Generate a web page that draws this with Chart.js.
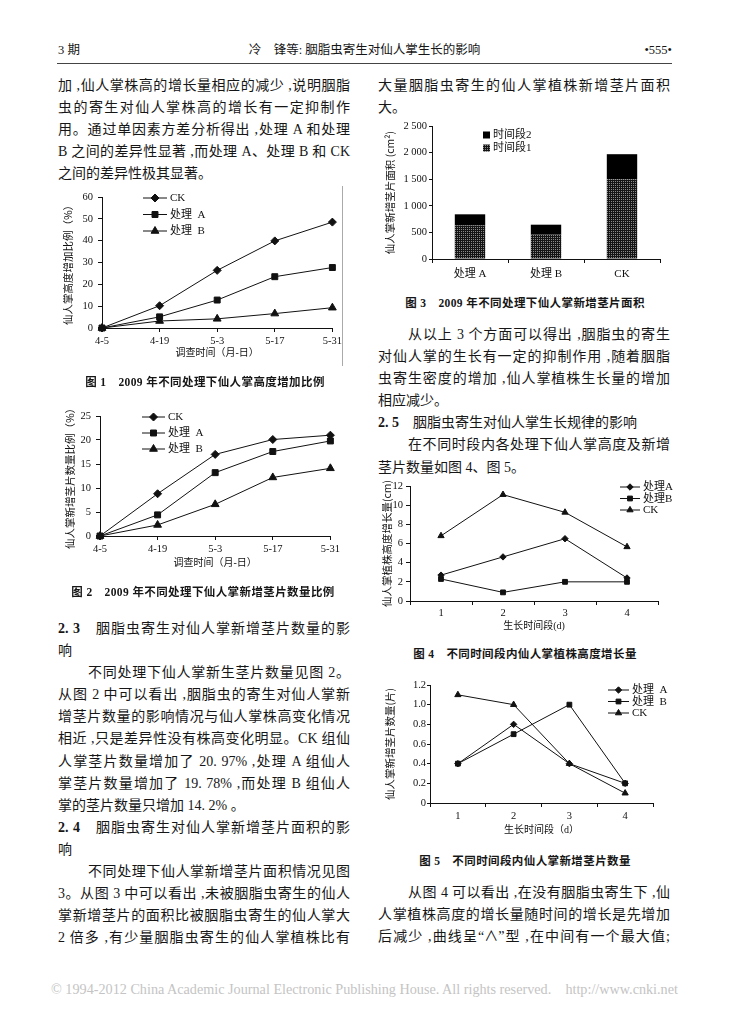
<!DOCTYPE html>
<html lang="zh-CN">
<head>
<meta charset="utf-8">
<script src="https://cdn.jsdelivr.net/npm/chart.js@4.4.1/dist/chart.umd.min.js"></script>
<style>
  body { margin: 0; background: #fff; }
  #page { position: relative; width: 729px; height: 1024px; overflow: hidden;
    font-family: "Liberation Serif", "Noto Sans CJK SC", serif; color: #161616; }
  .hd { position: absolute; top: 42px; font-size: 12.5px; line-height: 16px; }
  .rule { position: absolute; left: 57px; top: 63px; width: 615px; height: 1px; background: #444; }
  .col { position: absolute; width: 292px; font-size: 14px; line-height: 22.1px; }
  .col div { text-align: justify; text-align-last: justify; height: 22.1px; }
  .col div.l { text-align-last: left; }
  .col div.ind { padding-left: 30px; }
  .col b { font-family: "Liberation Serif", serif; }
  .cap { position: absolute; font-size: 11.5px; font-weight: bold; text-align: center; letter-spacing: 0.4px; }
  canvas { position: absolute; }
  .frame { position: absolute; left: 342px; top: 186px; width: 1px; height: 180px; background: #aaa; }
  .foot { position: absolute; left: 0; width: 729px; top: 981px; text-align: center; font-size: 14.2px; color: #c4c4c4; }
</style>
</head>
<body>
<div id="page">
  <div class="hd" style="left:58px">3 期</div>
  <div class="hd" style="left:0;width:729px;text-align:center">冷　锋等: 胭脂虫寄生对仙人掌生长的影响</div>
  <div class="hd" style="right:57px">•555•</div>
  <div class="rule"></div>

  <div class="col" style="left:58px;top:75px">
    <div>加 ,仙人掌株高的增长量相应的减少 ,说明胭脂</div>
    <div>虫的寄生对仙人掌株高的增长有一定抑制作</div>
    <div>用。通过单因素方差分析得出 ,处理 A 和处理</div>
    <div>B 之间的差异性显著 ,而处理 A、处理 B 和 CK</div>
    <div class="l">之间的差异性极其显著。</div>
  </div>

  <div class="col" style="left:58px;top:618px">
    <div><b>2. 3</b>　胭脂虫寄生对仙人掌新增茎片数量的影</div>
    <div class="l">响</div>
    <div class="ind">不同处理下仙人掌新生茎片数量见图 2。</div>
    <div>从图 2 中可以看出 ,胭脂虫的寄生对仙人掌新</div>
    <div>增茎片数量的影响情况与仙人掌株高变化情况</div>
    <div>相近 ,只是差异性没有株高变化明显。CK 组仙</div>
    <div>人掌茎片数量增加了 20. 97% ,处理 A 组仙人</div>
    <div>掌茎片数量增加了 19. 78% ,而处理 B 组仙人</div>
    <div class="l">掌的茎片数量只增加 14. 2% 。</div>
    <div><b>2. 4</b>　胭脂虫寄生对仙人掌新增茎片面积的影</div>
    <div class="l">响</div>
    <div class="ind">不同处理下仙人掌新增茎片面积情况见图</div>
    <div>3。从图 3 中可以看出 ,未被胭脂虫寄生的仙人</div>
    <div>掌新增茎片的面积比被胭脂虫寄生的仙人掌大</div>
    <div>2 倍多 ,有少量胭脂虫寄生的仙人掌植株比有</div>
  </div>

  <div class="col" style="left:378px;top:75px">
    <div>大量胭脂虫寄生的仙人掌植株新增茎片面积</div>
    <div class="l">大。</div>
  </div>

  <div class="col" style="left:378px;top:324px">
    <div class="ind">从以上 3 个方面可以得出 ,胭脂虫的寄生</div>
    <div>对仙人掌的生长有一定的抑制作用 ,随着胭脂</div>
    <div>虫寄生密度的增加 ,仙人掌植株生长量的增加</div>
    <div class="l">相应减少。</div>
    <div class="l"><b>2. 5</b>　胭脂虫寄生对仙人掌生长规律的影响</div>
    <div class="ind">在不同时段内各处理下仙人掌高度及新增</div>
    <div class="l">茎片数量如图 4、图 5。</div>
  </div>

  <div class="col" style="left:378px;top:882px">
    <div class="ind">从图 4 可以看出 ,在没有胭脂虫寄生下 ,仙</div>
    <div>人掌植株高度的增长量随时间的增长是先增加</div>
    <div>后减少 ,曲线呈“∧”型 ,在中间有一个最大值;</div>
  </div>

  <canvas id="fig1" width="285" height="190" style="left:60px;top:185px"></canvas>
  <div class="frame"></div>
  <div class="cap" style="left:60px;width:290px;top:373px">图 1　2009 年不同处理下仙人掌高度增加比例</div>

  <canvas id="fig2" width="285" height="190" style="left:58px;top:404px"></canvas>
  <div class="cap" style="left:58px;width:290px;top:583px">图 2　2009 年不同处理下仙人掌新增茎片数量比例</div>

  <canvas id="fig3" width="295" height="180" style="left:375px;top:114px"></canvas>
  <div class="cap" style="left:378px;width:294px;top:294px">图 3　2009 年不同处理下仙人掌新增茎片面积</div>

  <canvas id="fig4" width="300" height="170" style="left:375px;top:474px"></canvas>
  <div class="cap" style="left:378px;width:294px;top:645px">图 4　不同时间段内仙人掌植株高度增长量</div>

  <canvas id="fig5" width="300" height="175" style="left:375px;top:673px"></canvas>
  <div class="cap" style="left:378px;width:294px;top:852px">图 5　不同时间段内仙人掌新增茎片数量</div>

  <div class="foot">© 1994-2012 China Academic Journal Electronic Publishing House. All rights reserved.&nbsp;&nbsp;&nbsp;&nbsp;http://www.cnki.net</div>
</div>

<script>
// ---- data ----

// 图 1 / 图 2: survey dates
const surveyDates = ['4-5', '4-19', '5-3', '5-17', '5-31'];
const heightCK = [0, 10.2, 26.4, 39.9, 48.5];
const heightA = [0, 5.1, 12.8, 23.5, 27.7];
const heightB = [0, 3.2, 4.2, 6.6, 9.3];
const countCK = [0, 8.8, 17.0, 20.1, 21.0];
const countA = [0, 4.4, 13.2, 17.6, 19.8];
const countB = [0, 2.3, 6.6, 12.2, 14.1];

// 图 3: stacked area of new pads
const areaGroups = ['处理 A', '处理 B', 'CK'];
const areaPeriod1 = [630, 460, 1500];
const areaPeriod2 = [210, 185, 470];

// 图 4 / 图 5: growth periods
const periods = ['1', '2', '3', '4'];
const growA = [2.7, 4.6, 6.5, 2.4];
const growB = [2.3, 0.9, 2.0, 2.0];
const growCK = [6.8, 11.1, 9.25, 5.65];
const newA = [0.4, 0.8, 0.4, 0.2];
const newB = [0.4, 0.7, 1.0, 0.2];
const newCK = [1.1, 1.0, 0.4, 0.1];

// ---- helpers ----
const serif = "'Liberation Serif', 'Noto Sans CJK SC'";
const sans = "'Noto Sans CJK SC'";
const ink = '#111';

// legend drawn inside the plot: short line with the marker in the middle
const lineLegend = {
  id: 'lineLegend',
  afterDraw(chart, args, opts) {
    if (!opts || opts.x == null) return;
    const ctx = chart.ctx;
    ctx.save();
    ctx.font = opts.size + 'px ' + serif;
    ctx.textBaseline = 'middle';
    chart.data.datasets.forEach((ds, i) => {
      const y = opts.y + i * opts.gap;
      ctx.strokeStyle = ink;
      ctx.fillStyle = ink;
      ctx.lineWidth = 1;
      ctx.beginPath();
      ctx.moveTo(opts.x, y);
      ctx.lineTo(opts.x + opts.len, y);
      ctx.stroke();
      Chart.helpers.drawPoint(ctx, { pointStyle: ds.pointStyle, radius: ds.pointRadius, borderWidth: 1 }, opts.x + opts.len / 2, y);
      ctx.fillText(ds.label, opts.x + opts.len + 3, y + 0.5);
    });
    ctx.restore();
  }
};

// legend with filled boxes, listed top segment first
const boxLegend = {
  id: 'boxLegend',
  afterDraw(chart, args, opts) {
    if (!opts || opts.x == null) return;
    const ctx = chart.ctx;
    ctx.save();
    ctx.font = opts.size + 'px ' + serif;
    ctx.textBaseline = 'middle';
    const list = chart.data.datasets.slice().reverse();
    list.forEach((ds, i) => {
      const y = opts.y + i * opts.gap;
      ctx.fillStyle = ds.backgroundColor;
      ctx.fillRect(opts.x, y - 3.5, 7, 7);
      ctx.fillStyle = ink;
      ctx.fillText(ds.label, opts.x + 10, y + 0.5);
    });
    ctx.restore();
  }
};

Chart.register(lineLegend, boxLegend);

function series(label, data, style, r) {
  return {
    label: label, data: data,
    borderColor: ink, borderWidth: 1, backgroundColor: ink,
    pointStyle: style, pointRadius: r, pointHoverRadius: r,
    pointBackgroundColor: ink, pointBorderColor: ink, pointBorderWidth: 1,
    tension: 0, clip: false, fill: false
  };
}

function axes(c) {
  return {
    x: {
      offset: c.offset, stacked: !!c.stacked,
      grid: { display: true, drawOnChartArea: false, offset: c.offset, tickLength: 4, color: ink, lineWidth: 1 },
      border: { display: true, color: ink, width: 1 },
      ticks: { color: ink, font: { family: serif, size: c.xTickSize || 10.5 }, padding: c.xPad, maxRotation: 0, autoSkip: false },
      title: { display: !!c.xTitle, text: c.xTitle, color: ink, font: { family: serif, size: 10, lineHeight: 1.2 }, padding: { top: 0, bottom: 0 } },
      afterFit: s => { s.height = c.xH; }
    },
    y: {
      min: 0, max: c.yMax, stacked: !!c.stacked,
      grid: { display: true, drawOnChartArea: false, tickLength: c.yTick || 4, color: ink, lineWidth: 1 },
      border: { display: true, color: ink, width: 1 },
      ticks: { stepSize: c.step, color: ink, font: { family: serif, size: 10.5 }, padding: c.yPad, callback: c.fmt },
      title: { display: true, text: c.yTitle, color: ink, font: { family: sans, size: 10.5, lineHeight: 1.2 }, padding: { top: c.yTitlePad, bottom: 0 } },
      afterFit: s => { s.width = c.yW; }
    }
  };
}

function baseOptions(pad, scales, plugins) {
  return {
    responsive: false, animation: false, devicePixelRatio: 1,
    events: [],
    layout: { padding: pad },
    plugins: Object.assign({ legend: { display: false }, tooltip: { enabled: false } }, plugins),
    scales: scales
  };
}

// ---- 图 1 ----
new Chart(document.getElementById('fig1'), {
  type: 'line',
  data: {
    labels: surveyDates,
    datasets: [
      series('CK', heightCK, 'rectRot', 4),
      series('处理  A', heightA, 'rect', 4.2),
      series('处理  B', heightB, 'triangle', 4.5)
    ]
  },
  options: baseOptions({ left: 0, top: 12, right: 12, bottom: 16 },
    axes({ offset: false, xH: 31, xPad: 3, xTitle: '调查时间（月-日）', yMax: 60, step: 10, yPad: 5, yW: 42,
      yTitle: '仙人掌高度增加比例（%）', yTitlePad: 2 }),
    { lineLegend: { x: 83, y: 13, gap: 16.5, len: 24, size: 11 } })
});

// ---- 图 2 ----
new Chart(document.getElementById('fig2'), {
  type: 'line',
  data: {
    labels: surveyDates,
    datasets: [
      series('CK', countCK, 'rectRot', 4),
      series('处理  A', countA, 'rect', 4.2),
      series('处理  B', countB, 'triangle', 4.5)
    ]
  },
  options: baseOptions({ left: 0, top: 12, right: 12, bottom: 25 },
    axes({ offset: false, xH: 33, xPad: 3, xTitle: '调查时间（月-日）', yMax: 25, step: 5, yPad: 5, yW: 42,
      yTitle: '仙人掌新增茎片数量比例（%）', yTitlePad: 6 }),
    { lineLegend: { x: 84, y: 13, gap: 16, len: 23, size: 11 } })
});

// ---- 图 3 ----
function dotPattern() {
  const c = document.createElement('canvas');
  c.width = 2; c.height = 2;
  const g = c.getContext('2d');
  g.fillStyle = '#8a8a8a';
  g.fillRect(0, 0, 2, 2);
  g.fillStyle = '#151515';
  g.fillRect(0, 0, 1, 1);
  g.fillRect(1, 1, 1, 1);
  g.fillRect(1, 0, 1, 1);
  return g.createPattern(c, 'repeat');
}

new Chart(document.getElementById('fig3'), {
  type: 'bar',
  data: {
    labels: areaGroups,
    datasets: [
      { label: '时间段1', data: areaPeriod1, backgroundColor: dotPattern(), borderWidth: 0 },
      { label: '时间段2', data: areaPeriod2, backgroundColor: '#000', borderWidth: 0 }
    ]
  },
  options: Object.assign(baseOptions({ left: 0, top: 12, right: 10, bottom: 9 },
    axes({ offset: true, stacked: true, xH: 26, xPad: 5, xTitle: '', xTickSize: 11, yMax: 2500, step: 500, yPad: 2, yTick: 3, yW: 57,
      yTitle: '仙人掌新增茎片面积 (cm²)', yTitlePad: 9,
      fmt: v => v >= 1000 ? String(v).replace(/(\d)(\d{3})$/, '$1 $2') : String(v) }),
    { boxLegend: { x: 108, y: 21, gap: 13, size: 11 } }),
    { datasets: { bar: { barPercentage: 0.4, categoryPercentage: 1 } } })
});

// ---- 图 4 ----
new Chart(document.getElementById('fig4'), {
  type: 'line',
  data: {
    labels: periods,
    datasets: [
      series('处理A', growA, 'rectRot', 3.2),
      series('处理B', growB, 'rect', 3.4),
      series('CK', growCK, 'triangle', 3.6)
    ]
  },
  options: baseOptions({ left: 0, top: 12, right: 17, bottom: 12 },
    axes({ offset: true, xH: 31, xPad: 2, xTitle: '生长时间段(d)', yMax: 12, step: 2, yPad: 3, yW: 35,
      yTitle: '仙人掌植株高度增长量(cm)', yTitlePad: 6 }),
    { lineLegend: { x: 245, y: 13, gap: 11.5, len: 20, size: 11 } })
});

// ---- 图 5 ----
new Chart(document.getElementById('fig5'), {
  type: 'line',
  data: {
    labels: periods,
    datasets: [
      series('处理  A', newA, 'rectRot', 3.2),
      series('处理  B', newB, 'rect', 3.4),
      series('CK', newCK, 'triangle', 3.6)
    ]
  },
  options: baseOptions({ left: 0, top: 12, right: 22, bottom: 12 },
    axes({ offset: true, xH: 33, xPad: 3, xTitle: '生长时间段（d）', yMax: 1.2, step: 0.2, yPad: 1, yTick: 3, yW: 55,
      yTitle: '仙人掌新增茎片数量(片)', yTitlePad: 9,
      fmt: v => v === 0 ? '0' : v.toFixed(1) }),
    { lineLegend: { x: 233, y: 17, gap: 11.5, len: 21, size: 11 } })
});
</script>
</body>
</html>
